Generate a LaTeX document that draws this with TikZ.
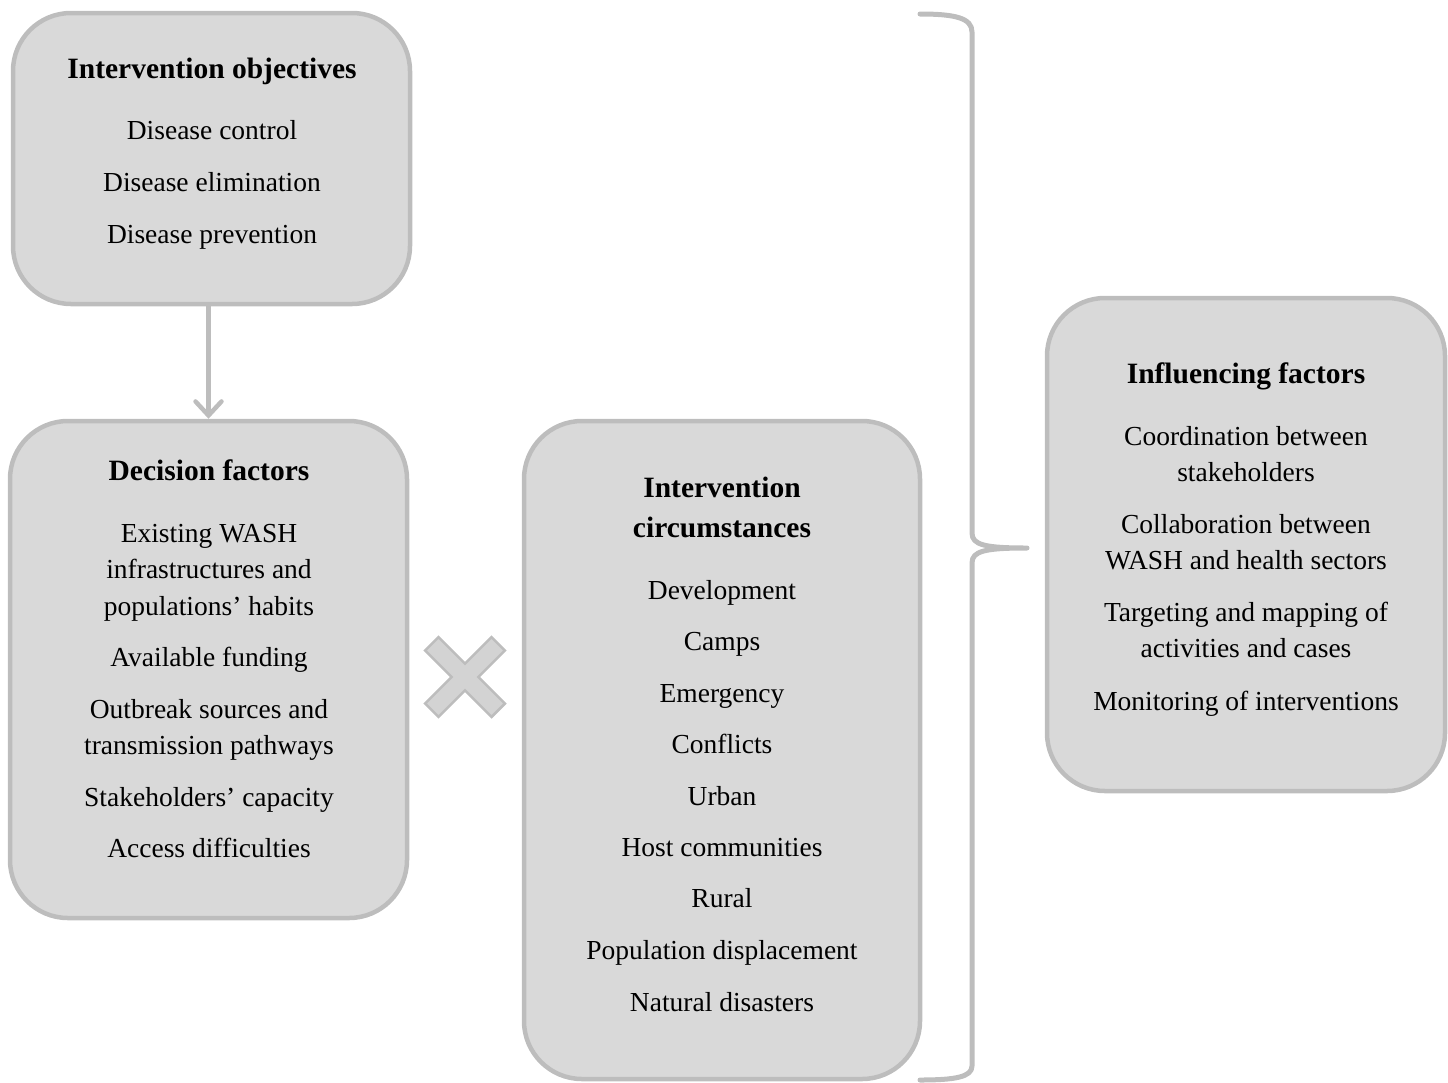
\documentclass[tikz,border=0pt]{standalone}
\usepackage{fontspec}
\setmainfont{Liberation Serif}
\usetikzlibrary{arrows.meta}
\definecolor{boxfill}{HTML}{D9D9D9}
\definecolor{boxline}{HTML}{BDBDBD}
\definecolor{xfill}{HTML}{D3D3D3}
\begin{document}
\begin{tikzpicture}[x=1pt,y=-1pt,
  box/.style={draw=boxline, fill=boxfill, line width=4.5pt, rounded corners=58pt, inner sep=0pt},
  txt/.style={anchor=base, inner sep=0pt, font=\fontsize{27.5}{36}\selectfont},
  ttl/.style={anchor=base, inner sep=0pt, font=\fontsize{29.5}{38}\selectfont\bfseries},
  conn/.style={draw=boxline, line width=4.5pt}]
\useasboundingbox (0,0) rectangle (1448,1082);
% boxes
\node[box, minimum width=397pt, minimum height=291pt] (obj) at (211.5,158.5) {};
\node[box, minimum width=397pt, minimum height=497pt] (dec) at (208.5,669.5) {};
\node[box, minimum width=396pt, minimum height=658pt] (circ) at (722,750) {};
\node[box, minimum width=398pt, minimum height=493pt] (infl) at (1246,544.5) {};
% arrow
\draw[conn, -{Straight Barb[length=14pt,width=26pt,line cap=round]}] (dec.north |- obj.south) -- (dec.north);
% box 1 texts
\node[ttl] (t1) at (212,78) {Intervention objectives};
\node[txt] (o1) at (212,139) {Disease control};
\node[txt] (o2) at (212,191) {Disease elimination};
\node[txt] (o3) at (212,243) {Disease prevention};
% box 2 texts
\node[ttl] (t2) at (209,480) {Decision factors};
\node[txt] (d1) at (209,542) {Existing WASH};
\node[txt] (d2) at (209,578) {infrastructures and};
\node[txt] (d3) at (209,615) {populations’ habits};
\node[txt] (d4) at (209,666) {Available funding};
\node[txt] (d5) at (209,718) {Outbreak sources and};
\node[txt] (d6) at (209,754) {transmission pathways};
\node[txt] (d7) at (209,806) {Stakeholders’ capacity};
\node[txt] (d8) at (209,857) {Access difficulties};
% box 3 texts
\node[ttl] (t3a) at (722,497) {Intervention};
\node[ttl] (t3b) at (722,537) {circumstances};
\node[txt] (c1) at (722,599) {Development};
\node[txt] (c2) at (722,650) {Camps};
\node[txt] (c3) at (722,702) {Emergency};
\node[txt] (c4) at (722,753) {Conflicts};
\node[txt] (c5) at (722,805) {Urban};
\node[txt] (c6) at (722,856) {Host communities};
\node[txt] (c7) at (722,907) {Rural};
\node[txt] (c8) at (722,959) {Population displacement};
\node[txt] (c9) at (722,1011) {Natural disasters};
% box 4 texts
\node[ttl] (t4) at (1246,383) {Influencing factors};
\node[txt] (f1) at (1246,445) {Coordination between};
\node[txt] (f2) at (1246,481) {stakeholders};
\node[txt] (f3) at (1246,533) {Collaboration between};
\node[txt] (f4) at (1246,569) {WASH and health sectors};
\node[txt] (f5) at (1246,621) {Targeting and mapping of};
\node[txt] (f6) at (1246,657) {activities and cases};
\node[txt] (f7) at (1246,710) {Monitoring of interventions};
% cross
\begin{scope}[shift={(465,677)}, rotate=45]
\draw[draw=boxline, fill=xfill, line width=2.5pt, line join=miter]
  (9.5,47) -- (9.5,9.5) -- (47,9.5) -- (47,-9.5) -- (9.5,-9.5) -- (9.5,-47)
  -- (-9.5,-47) -- (-9.5,-9.5) -- (-47,-9.5) -- (-47,9.5) -- (-9.5,9.5) -- (-9.5,47) -- cycle;
\end{scope}
% brace
\coordinate (btop) at (920,14);
\coordinate (btip) at (1027,548);
\coordinate (bbot) at (920,1080);
\draw[draw=boxline, line width=5pt, line cap=round, line join=round]
  (btop) .. controls (955,14) and (972,18) .. (972,32) -- (972,533)
  .. controls (972,545) and (985,548) .. (btip)
  .. controls (985,548) and (972,551) .. (972,563) -- (972,1066)
  .. controls (972,1077) and (955,1080) .. (bbot);
\end{tikzpicture}
\end{document}
